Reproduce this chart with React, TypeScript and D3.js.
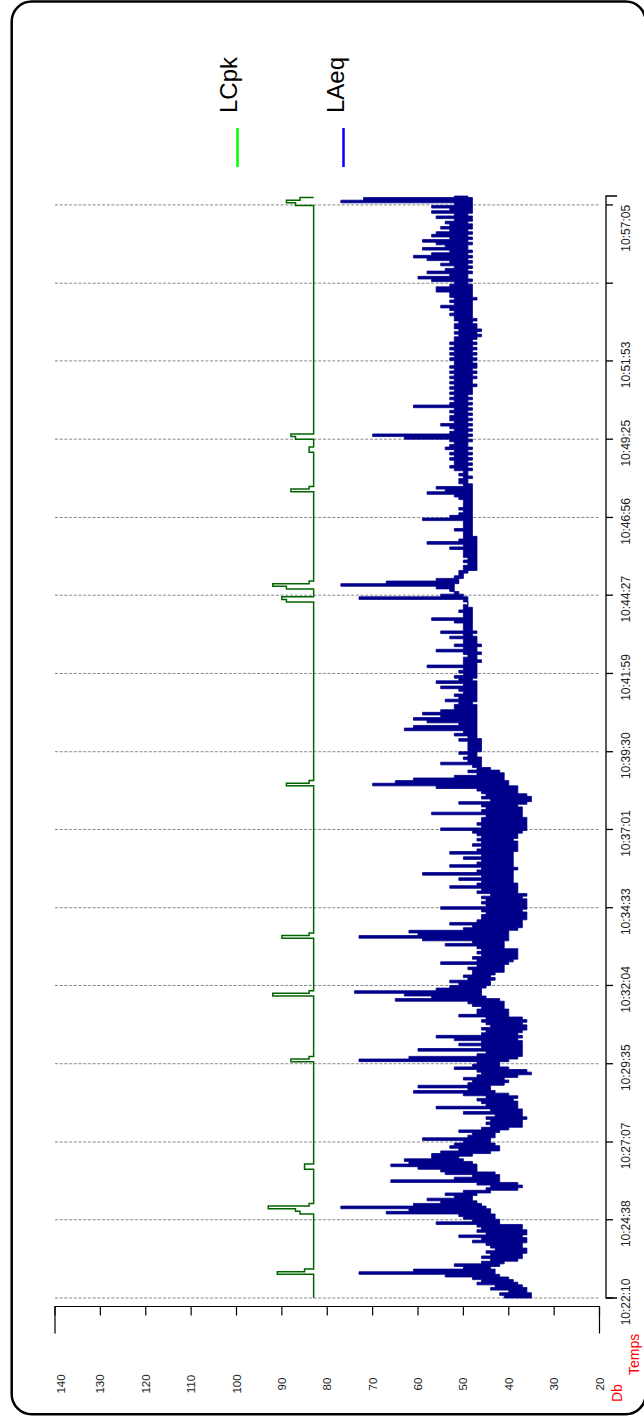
import React from "react";
import * as d3 from "d3";

// LAeq in 5-second bins from 10:22:10: highest and lowest level reached in each bin (dB)
const STEP_S = 5;
const laeqHigh = [
  41,42,40,44,43,47,46,48,54,73,
  61,50,52,46,44,46,44,45,43,44,
  45,48,46,51,45,47,46,47,56,48,
  50,51,67,62,77,61,55,58,52,54,
  50,45,44,47,66,52,48,54,55,60,
  66,62,63,57,57,55,51,53,52,50,
  59,49,48,51,46,44,45,44,45,43,
  50,44,56,45,46,47,45,50,61,49,
  60,49,48,50,47,46,47,52,48,47,
  73,62,47,45,60,46,51,46,52,56,
  46,
  45,46,44,45,46,45,51,47,47,46,
  48,49,65,57,63,74,56,53,51,53,
  49,50,48,48,49,47,55,47,48,46,
  47,46,47,54,48,59,73,60,62,50,
  48,53,47,46,46,45,46,55,45,46,
  45,46,44,47,46,53,47,46,51,46,
  59,47,46,53,47,46,50,46,53,47,
  46,48,46,47,46,47,48,55,46,47,
  46,46,45,57,46,45,46,51,44,46,
  45,46,47,56,70,65,61,52,47,49,
  47,48,55,49,50,49,51,49,
  49,49,49,51,49,52,50,63,61,51,
  58,61,55,59,55,52,52,51,54,51,
  52,50,51,55,50,56,51,52,50,51,
  50,58,50,50,50,49,50,56,50,52,
  50,50,53,50,55,50,50,50,52,57,
  50,50,51,50,50,49,50,73,55,52,
  53,56,77,67,56,52,51,51,50,50,
  49,50,49,50,50,50,53,50,58,51,
  50,50,50,52,50,50,50,59,53,51,
  50,51,50,50,50,51,52,58,54,56,
  50,51,51,50,51,50,
  52,53,52,52,53,52,53,52,54,53,
  52,53,63,70,53,52,53,55,52,53,
  53,52,53,52,61,53,52,53,52,53,
  52,53,52,53,52,53,52,53,52,53,
  52,52,53,52,53,52,53,52,53,52,
  52,51,52,51,52,52,51,52,52,53,
  52,53,55,52,53,52,53,53,56,56,
  53,52,57,60,53,58,54,52,55,53,
  58,61,57,53,59,54,56,59,53,57,
  56,53,55,53,54,52,56,52,57,53,
  57,52,77,72,52,
];
const laeqLow = [
  35,35,36,36,37,38,39,40,42,43,
  43,44,42,41,38,37,37,36,36,37,
  37,36,36,37,36,36,37,37,42,42,
  43,43,44,44,45,46,47,48,48,47,
  44,38,37,38,42,42,42,43,47,47,
  47,48,50,51,48,44,42,42,43,44,
  44,43,43,42,40,37,37,37,36,37,
  37,37,38,38,38,39,38,40,43,44,
  44,41,40,41,38,35,36,40,42,42,
  40,38,37,37,37,37,37,37,38,37,
  38,
  37,36,36,37,36,37,40,40,40,41,
  41,41,42,45,46,46,46,45,44,44,
  43,44,43,41,41,41,40,39,38,38,
  38,38,41,41,41,40,40,40,40,38,
  37,37,37,36,36,36,37,36,36,36,
  36,37,36,38,38,38,38,39,39,39,
  39,39,38,39,39,39,39,39,39,38,
  38,38,38,39,38,38,37,36,36,36,
  36,36,37,37,37,37,38,36,35,35,
  36,38,38,38,40,40,41,41,41,42,
  44,46,46,46,46,47,47,46,
  46,46,46,46,47,47,47,47,47,47,
  47,47,47,47,47,47,47,48,47,47,
  47,47,47,47,47,47,48,47,47,47,
  47,47,47,46,47,47,46,47,47,46,
  47,47,47,48,47,48,48,48,48,48,
  48,48,48,48,49,49,49,49,50,51,
  52,52,52,51,51,50,50,49,47,47,
  47,47,47,47,47,47,47,47,47,47,
  47,48,48,48,48,48,48,48,48,48,
  48,48,48,48,48,48,48,48,48,48,
  48,49,49,48,49,49,
  48,49,48,49,48,49,48,49,48,49,
  49,48,49,48,49,48,49,48,49,48,
  49,48,49,48,49,48,49,48,49,48,
  48,48,47,48,48,47,48,47,48,47,
  47,48,47,48,47,48,47,48,47,48,
  47,46,47,46,47,47,48,47,48,48,
  48,48,48,48,48,47,48,48,48,48,
  48,49,48,49,49,48,49,48,49,48,
  49,48,49,48,49,49,48,49,48,49,
  48,49,48,48,49,48,48,49,48,48,
  48,48,48,48,49,
];

// LCpk change points: bin index and value (dB), held until next change
const lcpkIdx = [0,9,10,11,32,33,34,35,36,49,51,90,91,92,115,116,117,137,138,139,195,196,197,265,266,267,270,271,272,273,307,308,309,322,324,327,328,329,416,417,418,419];
const lcpkVal = [83,91,85,83,86,87,93,84,83,85,83,88,84,83,92,84,83,90,84,83,89,84,83,89,90,83,89,92,84,83,88,84,83,84,83,87,88,83,87,89,86,83];

const dbTicks = [140,130,120,110,100,90,80,70,60,50,40,30,20];
const timeTickSec = [0,149,297,446,595,743,892,1040,1189,1338,1486,1635,1784,1932,2081];
const timeTickLabels = ["10:22:10","10:24:38","10:27:07","10:29:35","10:32:04","10:34:33","10:37:01","10:39:30","10:41:59","10:44:27","10:46:56","10:49:25","10:51:53","","10:57:05"];

const seriesNames = ["LCpk", "LAeq"];

const FONT = "'Liberation Sans', Arial, Helvetica, sans-serif";
const T_END = 2098;

export default function App() {
  const x = d3.scaleLinear().domain([140, 20]).range([55, 599.5]);
  const y = d3.scaleLinear().domain([0, T_END]).range([1298, 196]);
  const stepLine = d3.line<[number, number]>().curve(d3.curveStepBefore);

  // LAeq band: each 5 s bin filled between its low and high level
  const n = Math.min(laeqHigh.length, laeqLow.length);
  const p = d3.path();
  for (let i = 0; i < n; i++) {
    const y0 = y(i * STEP_S);
    const y1 = y(Math.min((i + 1) * STEP_S, T_END));
    if (i === 0) p.moveTo(x(laeqHigh[i]), y0);
    else p.lineTo(x(laeqHigh[i]), y0);
    p.lineTo(x(laeqHigh[i]), y1);
  }
  for (let i = n - 1; i >= 0; i--) {
    const y0 = y(i * STEP_S);
    const y1 = y(Math.min((i + 1) * STEP_S, T_END));
    p.lineTo(x(laeqLow[i]), y1);
    p.lineTo(x(laeqLow[i]), y0);
  }
  p.closePath();

  const lcpkPts: [number, number][] = lcpkIdx.map((idx, k) => [x(lcpkVal[k]), y(idx * STEP_S)]);

  const axisY = 1306.5;
  const axisX = 606;
  const tTop = y(T_END);
  const tBot = y(0);

  return (
    <svg width={644} height={1418} style={{ position: "absolute", left: 0, top: 0, background: "#fff" }} fontFamily={FONT}>
      <rect x={11.7} y={1.5} width={634} height={1412.8} rx={20} ry={20} fill="#fff" stroke="#000" strokeWidth={2.5} />

      {/* grid */}
      {timeTickSec.map((t, i) => (
        <line key={"g" + i} x1={x(140)} x2={x(20) + 0.5} y1={y(t)} y2={y(t)} stroke="#888" strokeWidth={1} strokeDasharray="3 1.7" />
      ))}

      {/* series */}
      <path d={stepLine(lcpkPts) || ""} fill="none" stroke="#006400" strokeWidth={1.5} />
      <path d={p.toString()} fill="#00008B" stroke="#00008B" strokeWidth={0.8} strokeLinejoin="miter" />

      {/* dB axis */}
      <path d={`M${x(140)},${axisY + 27} V${axisY} H${x(20)} V${axisY + 27}`} fill="none" stroke="#000" strokeWidth={1.2} />
      {dbTicks.map((v) => (
        <line key={"dt" + v} x1={x(v)} x2={x(v)} y1={axisY} y2={axisY + 9} stroke="#000" strokeWidth={1.2} />
      ))}
      {dbTicks.map((v) => (
        <text key={"dl" + v} transform={`translate(${Math.max(x(v), 61) + 4},1384) rotate(-90)`} textAnchor="middle" fontSize={11.5} fill="#222">
          {v}
        </text>
      ))}

      {/* time axis */}
      <path d={`M${axisX + 11},${tTop} H${axisX} V${tBot} H${axisX + 11}`} fill="none" stroke="#000" strokeWidth={1.3} />
      {timeTickSec.map((t, i) => (
        <line key={"tt" + i} x1={axisX} x2={axisX + 7} y1={y(t)} y2={y(t)} stroke="#000" strokeWidth={1.3} />
      ))}
      {timeTickSec.map((t, i) => {
        const lab = timeTickLabels[i];
        if (!lab) return null;
        const yc = y(t) + 4;
        const clamp = yc - 24 < tTop;
        return (
          <text key={"tl" + i} transform={`translate(630,${clamp ? y(t) : yc}) rotate(-90)`} textAnchor={clamp ? "end" : "middle"} fontSize={12} fill="#222">
            {lab}
          </text>
        );
      })}

      <text transform="translate(622,1402) rotate(-90)" fontSize={14} fill="#ff0000">Db</text>
      <text transform="translate(639,1375) rotate(-90)" fontSize={14} fill="#ff0000">Temps</text>

      {/* legend */}
      <text transform="translate(237,113) rotate(-90)" fontSize={24} fill="#000">{seriesNames[0]}</text>
      <line x1={237.5} x2={237.5} y1={128} y2={167} stroke="#00ff00" strokeWidth={2.5} />
      <text transform="translate(344,113) rotate(-90)" fontSize={24} fill="#000">{seriesNames[1]}</text>
      <line x1={343.5} x2={343.5} y1={128} y2={167} stroke="#0000ff" strokeWidth={2.5} />
    </svg>
  );
}
